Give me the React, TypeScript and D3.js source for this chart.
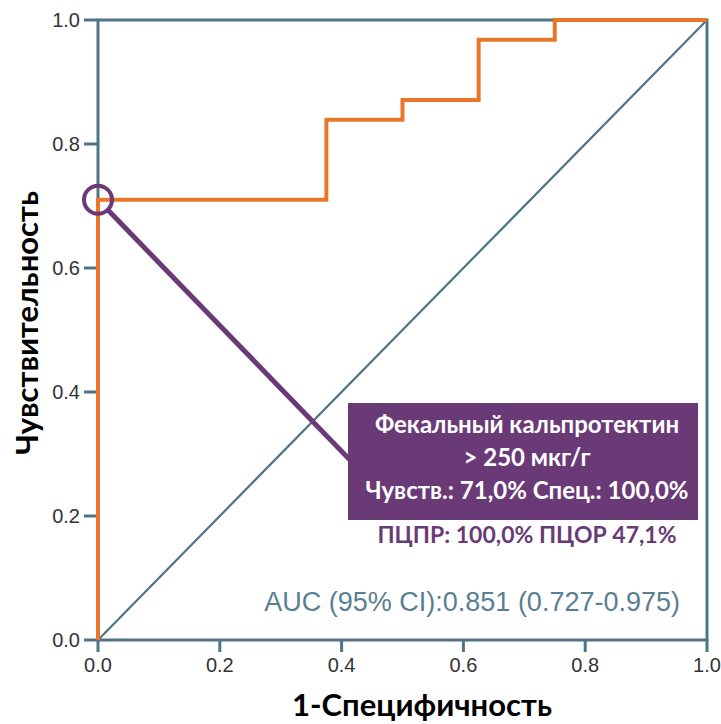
import * as d3 from "d3";
import { useEffect, useRef } from "react";

// ROC curve points (1-specificity, sensitivity)
const fpr = [0, 0, 0.375, 0.375, 0.5, 0.5, 0.625, 0.625, 0.75, 0.75, 1];
const tpr = [0, 0.71, 0.71, 0.839, 0.839, 0.871, 0.871, 0.968, 0.968, 1, 1];
const ticks = [0, 0.2, 0.4, 0.6, 0.8, 1.0];
const cutoff = { x: 0, y: 0.71 };
const boxLines = ["Фекальный кальпротектин", "> 250 мкг/г", "Чувств.: 71,0% Спец.: 100,0%"];
const predLine = "ПЦПР: 100,0% ПЦОР 47,1%";
const aucLabel = "AUC (95% CI):0.851 (0.727-0.975)";

const width = 721;
const height = 724;
const margin = { top: 20, right: 14, bottom: 84, left: 98 };

const axisColor = "#4f7487";
const orange = "#e8772a";
const purple = "#6a3a77";
const boldFont = "Lato, 'Open Sans', sans-serif";
const plainFont = "Liberation Sans, Arial, sans-serif";

export default function App() {
  const ref = useRef<SVGSVGElement>(null);

  useEffect(() => {
    const svg = d3.select(ref.current);
    svg.selectAll("*").remove();

    const x = d3.scaleLinear([0, 1], [margin.left, width - margin.right]);
    const y = d3.scaleLinear([0, 1], [height - margin.bottom, margin.top]);

    // frame
    svg.append("rect")
      .attr("x", x(0)).attr("y", y(1))
      .attr("width", x(1) - x(0)).attr("height", y(0) - y(1))
      .attr("fill", "none").attr("stroke", axisColor).attr("stroke-width", 3);

    // diagonal
    svg.append("line")
      .attr("x1", x(0)).attr("y1", y(0)).attr("x2", x(1)).attr("y2", y(1))
      .attr("stroke", axisColor).attr("stroke-width", 2.2);

    // ticks
    const g = svg.append("g");
    ticks.forEach(t => {
      g.append("line").attr("x1", x(0) - 14).attr("x2", x(0)).attr("y1", y(t)).attr("y2", y(t))
        .attr("stroke", axisColor).attr("stroke-width", 3);
      g.append("text").attr("x", x(0) - 18).attr("y", y(t) + 7)
        .attr("text-anchor", "end").attr("font-size", 20).attr("fill", "#333")
        .attr("font-family", plainFont)
        .text(t.toFixed(1));
      g.append("line").attr("x1", x(t)).attr("x2", x(t)).attr("y1", y(0)).attr("y2", y(0) + 12)
        .attr("stroke", axisColor).attr("stroke-width", 3);
      g.append("text").attr("x", x(t)).attr("y", y(0) + 32)
        .attr("text-anchor", "middle").attr("font-size", 20).attr("fill", "#333")
        .attr("font-family", plainFont)
        .text(t.toFixed(1));
    });

    // ROC curve
    const line = d3.line<number>().x(i => x(fpr[i])).y(i => y(tpr[i]));
    svg.append("path")
      .attr("d", line(d3.range(fpr.length)))
      .attr("fill", "none").attr("stroke", orange).attr("stroke-width", 4)
      .attr("stroke-linejoin", "miter");

    // cutoff marker + connector to box
    const cx = x(cutoff.x), cy = y(cutoff.y);
    const bx = 348, by = 403, bw = 350, bh = 117;
    const ex = bx + 2, ey = 460;
    const ang = Math.atan2(ey - cy, ex - cx);
    const r = 14;
    svg.append("line")
      .attr("x1", cx + r * Math.cos(ang)).attr("y1", cy + r * Math.sin(ang))
      .attr("x2", ex).attr("y2", ey)
      .attr("stroke", purple).attr("stroke-width", 5);
    svg.append("circle").attr("cx", cx).attr("cy", cy).attr("r", r)
      .attr("fill", "none").attr("stroke", purple).attr("stroke-width", 4);

    svg.append("rect").attr("x", bx).attr("y", by).attr("width", bw).attr("height", bh)
      .attr("fill", purple);
    boxLines.forEach((s, i) => {
      svg.append("text").attr("x", 527).attr("y", 433 + i * 33)
        .attr("text-anchor", "middle").attr("fill", "#fff")
        .attr("font-family", boldFont).attr("font-weight", 700)
        .attr("font-size", 24).text(s);
    });
    svg.append("text").attr("x", 527).attr("y", 543)
      .attr("text-anchor", "middle").attr("fill", purple)
      .attr("font-family", boldFont).attr("font-weight", 700)
      .attr("font-size", 23).text(predLine);

    svg.append("text").attr("x", 680).attr("y", 611)
      .attr("text-anchor", "end").attr("fill", "#5a7f91")
      .attr("font-family", plainFont)
      .attr("font-size", 27).text(aucLabel);

    // axis titles
    svg.append("text").attr("x", 422).attr("y", 716)
      .attr("text-anchor", "middle").attr("fill", "#000")
      .attr("font-family", boldFont).attr("font-weight", 700)
      .attr("font-size", 31).text("1-Специфичность");
    svg.append("text").attr("transform", `translate(38, 323) rotate(-90)`)
      .attr("text-anchor", "middle").attr("fill", "#000")
      .attr("font-family", boldFont).attr("font-weight", 700)
      .attr("font-size", 31).text("Чувствительность");
  }, []);

  return (
    <svg ref={ref} width={width} height={height}
      style={{ position: "absolute", left: 0, top: 0, background: "#fff" }} />
  );
}
